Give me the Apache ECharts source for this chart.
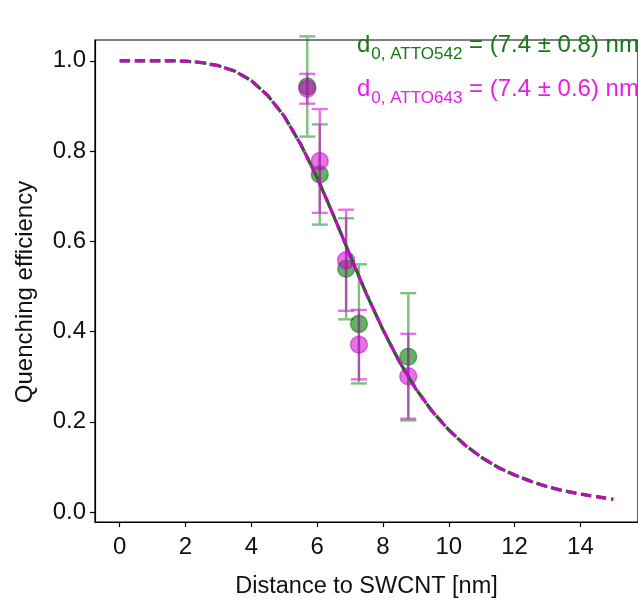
<!DOCTYPE html>
<html>
<head>
<meta charset="utf-8">
<script src="https://cdn.jsdelivr.net/npm/echarts@6/dist/echarts.min.js"></script>
<style>
html,body{margin:0;padding:0;background:#fff;}
#chart{width:638px;height:604px;}
</style>
</head>
<body>
<div id="chart"></div>
<script>
// ---- data ----
const xTicks = [0, 2, 4, 6, 8, 10, 12, 14];
const yTicks = [0.0, 0.2, 0.4, 0.6, 0.8, 1.0];

const distance = [5.70, 6.08, 6.88, 7.27, 8.77];
const atto542Eff = [0.943, 0.748, 0.539, 0.417, 0.344];
const atto542Err = [0.111, 0.111, 0.112, 0.132, 0.141];
const atto643Eff = [0.938, 0.778, 0.558, 0.371, 0.301];
const atto643Err = [0.033, 0.115, 0.112, 0.077, 0.094];

const curveX = [0, 0.5, 1, 1.5, 2, 2.5, 3, 3.5, 4, 4.5, 5, 5.5, 6, 6.5, 7, 7.5, 8, 8.5, 9, 9.5, 10, 10.5, 11, 11.5, 12, 12.5, 13, 13.5, 14, 14.5, 15];
const curveY = [1.000, 1.000, 1.000, 1.000, 0.999, 0.996, 0.989, 0.977, 0.956, 0.923, 0.877, 0.815, 0.741, 0.657, 0.569, 0.483, 0.404, 0.333, 0.273, 0.223, 0.182, 0.148, 0.121, 0.099, 0.082, 0.068, 0.056, 0.047, 0.040, 0.034, 0.028];

const xTitle = 'Distance to SWCNT [nm]';
const yTitle = 'Quenching efficiency';
const labelGreen = ['d', '0, ATTO542', ' = (7.4 ± 0.8) nm'];
const labelMagenta = ['d', '0, ATTO643', ' = (7.4 ± 0.6) nm'];

// ---- styling ----
const FONT = '"Liberation Sans", Arial, sans-serif';
const GREEN_BAR = 'rgba(0,128,0,0.5)';
const GREEN_PT = 'rgba(0,125,0,0.6)';
const MAG_PT = 'rgba(205,0,205,0.55)';
const GREEN_LINE = '#1d6a1d';
const MAG_LINE = '#b313b3';

const chart = echarts.init(document.getElementById('chart'), null, {renderer: 'canvas'});

function errSeries(name, ys, errs, color, z) {
  return {
    type: 'custom',
    name: name,
    z: z,
    clip: false,
    data: distance.map((x, i) => [x, ys[i], errs[i]]),
    renderItem: function (params, api) {
      const x = api.value(0), y = api.value(1), e = api.value(2);
      const t = api.coord([x, y + e]);
      const b = api.coord([x, y - e]);
      const hw = 8;
      const st = {stroke: color, lineWidth: 2.4};
      return {
        type: 'group',
        children: [
          {type: 'line', shape: {x1: t[0], y1: t[1] + 1.2, x2: b[0], y2: b[1] - 1.2}, style: st},
          {type: 'line', shape: {x1: t[0] - hw, y1: t[1], x2: t[0] + hw, y2: t[1]}, style: st},
          {type: 'line', shape: {x1: b[0] - hw, y1: b[1], x2: b[0] + hw, y2: b[1]}, style: st}
        ]
      };
    }
  };
}

function richLabel(parts, color) {
  return {
    text: '{a|' + parts[0] + '}{s|' + parts[1] + '}{a|' + parts[2] + '}',
    rich: {
      a: {fontSize: 24, fontFamily: FONT, fill: color, lineHeight: 27, verticalAlign: 'top'},
      s: {fontSize: 17, fontFamily: FONT, fill: color, lineHeight: 17, verticalAlign: 'top', padding: [13, 0, 0, 1]}
    }
  };
}

const option = {
  animation: false,
  backgroundColor: '#fff',
  grid: {left: 95, top: 40, right: -9, bottom: 79, show: true, borderColor: '#000', borderWidth: 1.2, backgroundColor: 'transparent'},
  xAxis: {
    type: 'value', min: -0.75, max: 15.75,
    name: xTitle, nameLocation: 'middle', nameGap: 53,
    nameTextStyle: {fontSize: 23.5, fontFamily: FONT, color: '#111'},
    axisLine: {onZero: false, lineStyle: {color: '#000', width: 1.2}},
    axisTick: {show: true, inside: false, length: 5, lineStyle: {color: '#000', width: 1.2}, customValues: xTicks},
    axisLabel: {customValues: xTicks, fontSize: 24, fontFamily: FONT, color: '#111', margin: 13, formatter: v => String(v)},
    splitLine: {show: false}
  },
  yAxis: {
    type: 'value', min: -0.022, max: 1.046,
    axisLine: {show: true, onZero: false, lineStyle: {color: '#000', width: 1.2}},
    axisTick: {show: true, inside: false, length: 5, lineStyle: {color: '#000', width: 1.2}, customValues: yTicks},
    axisLabel: {customValues: yTicks, fontSize: 24, fontFamily: FONT, color: '#111', margin: 9, formatter: v => v.toFixed(1)},
    splitLine: {show: false}
  },
  series: [
    errSeries('ATTO542 err', atto542Eff, atto542Err, GREEN_BAR, 2),
    {
      type: 'scatter', name: 'ATTO542', z: 2, symbol: 'circle', symbolSize: 17,
      data: distance.map((x, i) => [x, atto542Eff[i]]),
      itemStyle: {color: GREEN_PT, borderColor: 'rgba(0,100,0,0.45)', borderWidth: 1.5, opacity: 1}
    },
    errSeries('ATTO643 err', atto643Eff, atto643Err, MAG_PT, 3),
    {
      type: 'scatter', name: 'ATTO643', z: 3, symbol: 'circle', symbolSize: 17,
      data: distance.map((x, i) => [x, atto643Eff[i]]),
      itemStyle: {color: MAG_PT, borderColor: 'rgba(180,0,180,0.45)', borderWidth: 1.5, opacity: 1}
    },
    {
      type: 'line', name: 'fit ATTO542', z: 4, showSymbol: false, symbol: 'none', smooth: false,
      data: curveX.map((x, i) => [x, curveY[i]]),
      lineStyle: {color: GREEN_LINE, width: 3.3, type: [10.2, 5.12], dashOffset: 0}
    },
    {
      type: 'line', name: 'fit ATTO643', z: 5, showSymbol: false, symbol: 'none', smooth: false,
      data: curveX.map((x, i) => [x, curveY[i]]),
      lineStyle: {color: MAG_LINE, width: 3.3, type: [10, 5], dashOffset: 0}
    }
  ],
  graphic: [
    {type: 'text', left: 357, top: 33, z: 10, style: richLabel(labelGreen, '#177817')},
    {type: 'text', left: 357, top: 77, z: 10, style: richLabel(labelMagenta, '#e61ee6')},
    {type: 'text', x: 25, y: 292, rotation: Math.PI / 2, z: 10,
     style: {text: yTitle, fontSize: 24, fontFamily: FONT, fill: '#111', align: 'center', verticalAlign: 'middle'}}
  ]
};
chart.setOption(option);
</script>
</body>
</html>
